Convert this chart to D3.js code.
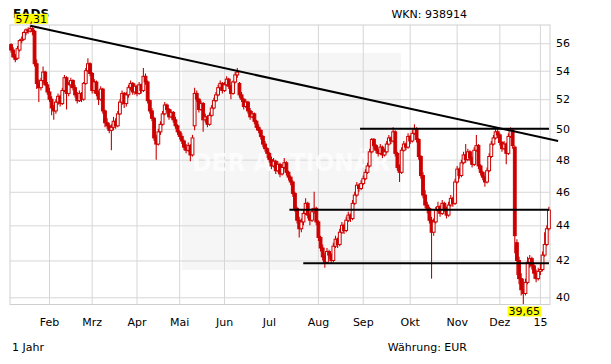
<!DOCTYPE html>
<html>
<head>
<meta charset="utf-8">
<script src="https://cdn.jsdelivr.net/npm/d3@7"></script>
<style>
  body { margin: 0; background: #fff; }
  svg { display: block; }
  text { font-family: "DejaVu Sans", sans-serif; }
</style>
</head>
<body>
<svg id="chart"></svg>
<script>
// trading days per month, Jan 2014 .. Jan 2015
const monthDays = [18, 20, 21, 20, 21, 21, 23, 21, 22, 22, 20, 19, 5];
const monthLabels = ["", "Feb", "Mrz", "Apr", "Mai", "Jun", "Jul", "Aug", "Sep", "Okt", "Nov", "Dez", "15"];
const yTicks = [40, 42, 44, 46, 48, 50, 52, 54, 56];

const opens = [
  55.9,55.5,55.0,54.9,55.5,56.2,56.3,56.8,57.0,56.9,57.1,56.9,54.5,53.1,52.8,53.3,53.9,53.0,
  52.5,52.0,51.4,51.2,51.8,52.2,51.7,52.6,53.5,52.4,53.0,53.3,52.8,52.3,51.9,52.4,52.0,53.1,54.0,54.5,
  53.8,52.6,53.2,52.4,52.0,52.7,51.2,50.4,50.2,49.9,50.1,50.5,50.2,51.0,51.8,52.4,51.7,52.3,52.8,53.1,52.5,
  52.9,52.4,53.0,52.6,53.6,53.2,51.9,51.2,50.7,49.4,49.0,49.8,50.3,51.0,51.6,51.3,50.8,51.1,50.6,50.2,
  49.8,49.5,49.2,48.8,48.6,48.9,48.3,50.2,52.4,52.0,51.3,51.7,50.6,50.8,50.3,50.9,51.4,51.9,52.3,52.8,53.1,
  52.6,53.0,53.4,52.9,52.4,53.2,53.7,53.1,52.3,52.0,51.5,51.8,51.2,50.8,51.0,50.5,50.1,49.9,49.5,49.0,48.7,
  48.4,48.0,47.6,47.9,47.3,47.7,47.1,47.5,47.8,47.2,46.9,46.6,45.9,45.0,44.3,43.8,44.2,44.7,45.3,44.6,44.3,44.8,45.0,
  44.2,43.3,42.7,42.2,41.9,42.5,42.3,42.0,42.8,43.2,42.9,43.6,44.0,43.7,44.3,44.6,44.4,45.3,45.8,46.4,46.2,
  46.5,46.8,47.2,47.6,48.5,49.3,48.9,48.6,48.4,48.8,48.3,48.5,49.0,49.4,49.2,49.8,48.4,47.5,47.2,48.6,49.0,48.8,
  49.5,49.2,49.7,50.0,49.3,48.2,47.0,45.8,45.2,45.0,44.3,43.6,44.2,44.9,45.1,44.7,45.3,45.0,44.6,45.2,45.6,45.3,
  46.6,47.4,47.0,47.8,48.3,48.0,48.5,48.1,47.7,48.6,48.9,47.6,47.2,46.9,46.6,47.3,48.2,49.0,49.4,49.8,
  49.6,49.1,48.7,49.0,48.4,49.5,49.9,48.8,43.0,42.0,41.0,40.4,40.2,40.8,41.9,42.1,41.7,41.3,41.0,
  41.4,41.5,42.3,42.9,43.8
];
const highs = [
  56.0,55.7,55.2,55.8,56.3,56.5,56.9,57.1,57.2,57.31,57.2,57.0,54.8,53.4,53.5,54.3,54.0,53.2,
  52.8,52.2,51.6,52.0,52.4,52.3,52.8,53.7,53.6,53.2,53.5,53.4,53.0,52.5,52.6,52.5,53.2,54.2,54.9,54.6,
  53.9,53.4,53.3,52.6,52.9,52.8,51.3,50.7,50.4,50.3,50.8,50.7,51.2,52.0,52.6,52.5,52.5,53.0,53.3,53.2,53.1,
  53.0,53.2,53.1,54.2,53.8,53.3,52.0,51.4,50.8,49.6,50.0,50.5,51.2,51.8,51.7,51.4,51.3,51.2,50.8,50.3,
  49.9,49.7,49.3,49.0,49.1,49.0,49.6,52.8,52.6,52.1,51.9,51.8,51.0,50.9,51.1,51.6,52.1,52.5,53.0,53.3,53.2,
  53.2,53.6,53.5,53.0,53.3,53.9,54.2,53.2,52.5,52.1,52.0,51.9,51.4,51.2,51.1,50.6,50.3,50.0,49.6,49.2,48.8,
  48.5,48.2,48.1,48.0,47.9,47.8,47.7,48.1,47.9,47.3,47.0,46.7,46.0,45.1,44.5,44.4,44.9,45.6,45.4,44.7,45.0,46.0,45.1,
  44.3,43.4,42.9,42.4,42.7,42.6,42.4,43.0,43.4,43.3,43.8,44.2,44.1,44.5,44.8,44.7,45.5,46.0,46.6,46.5,46.7,
  47.0,47.4,47.8,48.7,49.4,49.4,49.0,48.7,49.0,48.9,48.7,49.2,49.6,49.5,50.1,49.9,48.5,47.7,48.8,49.2,49.1,49.7,
  49.6,49.9,50.3,50.1,49.4,48.3,47.2,46.1,45.4,45.1,44.5,44.4,45.1,45.4,45.2,45.5,45.4,45.1,45.4,45.8,45.7,46.8,
  47.6,47.5,48.0,48.5,49.0,48.7,48.6,48.2,48.8,49.6,49.0,47.7,47.3,47.0,47.5,48.4,49.2,49.6,50.0,50.0,
  49.7,49.2,49.2,49.1,49.7,50.1,50.0,48.9,43.2,42.2,41.3,41.0,41.0,42.2,42.3,42.2,41.8,41.5,41.6,
  41.8,42.5,43.6,44.0,45.1
];
const lows = [
  55.3,54.9,54.6,54.8,55.4,56.0,56.2,56.6,56.7,56.8,56.6,54.3,52.7,51.8,52.6,53.1,52.9,52.3,
  51.8,50.9,50.6,51.0,51.6,51.5,51.6,52.5,51.3,52.2,52.8,52.6,52.1,51.7,51.8,51.8,51.9,53.0,53.9,53.6,
  52.4,52.4,52.2,51.6,51.9,51.0,50.1,50.0,49.7,48.6,49.9,50.0,50.1,50.9,51.6,51.4,51.5,52.1,52.6,52.3,52.3,
  52.2,52.3,52.4,52.5,53.0,51.7,51.0,50.5,49.2,48.0,48.9,49.6,50.2,50.9,51.1,50.6,50.7,50.4,50.0,49.6,
  49.3,49.0,48.6,48.4,48.5,47.9,48.2,49.9,51.8,51.1,51.2,49.8,50.4,50.1,50.2,50.8,51.3,51.8,52.2,52.6,52.4,
  52.5,52.9,52.7,52.0,52.3,53.1,53.5,52.1,51.8,51.3,51.4,51.0,50.6,50.7,50.3,49.9,49.7,49.3,48.8,48.5,48.1,
  47.8,47.4,47.5,47.1,47.2,46.9,47.0,47.4,47.0,46.7,46.4,45.7,44.8,44.1,43.3,43.6,44.0,44.6,44.4,44.0,44.2,44.7,44.0,
  43.1,42.5,42.0,41.6,41.8,42.1,41.8,41.9,42.7,42.7,42.8,43.5,43.5,43.6,44.2,44.2,44.3,45.2,45.7,46.0,46.1,
  46.4,46.7,47.1,47.5,48.4,48.7,48.4,48.2,48.3,48.1,48.2,48.4,48.9,49.0,49.1,48.2,47.3,46.6,47.1,48.5,48.6,48.7,
  49.0,49.1,49.6,49.1,48.0,46.8,45.6,45.0,44.7,44.1,41.0,43.4,44.1,44.8,44.5,44.6,44.8,44.4,44.5,45.1,45.1,45.2,
  46.5,46.8,46.9,47.7,47.8,47.9,47.9,47.5,47.6,48.5,47.4,47.0,46.7,46.3,46.5,47.2,48.1,48.9,49.3,49.4,
  48.9,48.5,48.6,47.7,48.3,49.4,48.7,42.4,41.2,40.7,40.1,39.65,40.1,40.7,41.6,41.5,41.0,40.8,40.9,
  41.2,41.4,42.2,42.8,43.7
];
const closes = [
  55.5,55.0,54.8,55.6,56.2,56.3,56.8,57.0,56.9,57.1,56.9,54.5,53.1,52.8,53.3,53.9,53.0,52.5,
  52.0,51.4,51.2,51.8,52.2,51.7,52.6,53.5,52.4,53.0,53.3,52.8,52.3,51.9,52.4,52.0,53.1,54.0,54.5,53.8,
  52.6,53.2,52.4,52.0,52.7,51.2,50.4,50.2,49.9,50.1,50.5,50.2,51.0,51.8,52.4,51.7,52.3,52.8,53.1,52.5,52.9,
  52.4,53.0,52.6,53.6,53.2,51.9,51.2,50.7,49.4,49.0,49.8,50.3,51.0,51.6,51.3,50.8,51.1,50.6,50.2,49.8,
  49.5,49.2,48.8,48.6,48.9,48.3,49.4,52.4,52.0,51.3,51.7,50.6,50.8,50.3,50.9,51.4,51.9,52.3,52.8,53.1,52.6,
  53.0,53.4,52.9,52.4,53.2,53.7,53.9,52.3,52.0,51.5,51.8,51.2,50.8,51.0,50.5,50.1,49.9,49.5,49.0,48.7,48.4,
  48.0,47.6,47.9,47.3,47.7,47.1,47.5,47.8,47.2,46.9,46.6,45.9,45.0,44.3,43.8,44.2,44.7,45.3,44.6,44.3,44.8,45.0,44.2,
  43.3,42.7,42.2,41.9,42.5,42.3,42.0,42.8,43.2,42.9,43.6,44.0,43.7,44.3,44.6,44.4,45.3,45.8,46.4,46.2,46.5,
  46.8,47.2,47.6,48.5,49.3,48.9,48.6,48.4,48.8,48.3,48.5,49.0,49.4,49.2,49.8,48.4,47.5,47.2,48.6,49.0,48.8,49.5,
  49.2,49.7,50.0,49.3,48.2,47.0,45.8,45.2,45.0,44.3,43.6,44.2,44.9,45.1,44.7,45.3,45.0,44.6,45.2,45.6,45.3,46.6,
  47.4,47.0,47.8,48.3,48.0,48.5,48.1,47.7,48.6,48.9,47.6,47.2,46.9,46.6,47.3,48.2,49.0,49.4,49.8,49.6,
  49.1,48.7,49.0,48.4,49.5,49.9,48.9,43.4,42.0,41.0,40.4,40.2,40.8,41.9,42.1,41.7,41.3,41.0,41.4,
  41.5,42.3,42.9,43.8,44.9
];

// drawn lines: [start day, start value, end day, end value]
const trendLine = [9, 57.31, 256.3, 49.2];
const supportLevels = [50.0, 44.92, 41.84];
const supportStarts = [163.5, 130.4, 136.9];

const width = 611;
const height = 364;
const plotLeft = 10, plotRight = 550, plotTop = 25, plotBottom = 304.5;
const red = "#cc0000";
const n = closes.length;

const svg = d3.select("#chart")
  .attr("width", width)
  .attr("height", height)
  .style("background", "#fff");

// SCALES
const xScale = d3.scaleBand()
  .domain(d3.range(n))
  .range([plotLeft, plotRight]);
const cx = i => xScale(i) + xScale.bandwidth() / 2;
const dayX = d => plotLeft + (d + 0.5) * xScale.step();

const yScale = d3.scaleLog()
  .domain([39.62, 57.37])
  .range([plotBottom, plotTop]);

// watermark panel
svg.append("rect")
  .attr("x", 182).attr("y", 53)
  .attr("width", 219).attr("height", 217)
  .attr("fill", "#f6f6f6");

// AXES / GRID
const monthStarts = d3.cumsum([0].concat(monthDays.slice(0, -1)));
const xAxis = d3.axisBottom(xScale)
  .tickValues(Array.from(monthStarts).slice(1))
  .tickFormat((d, i) => monthLabels[i + 1])
  .tickSize(-(plotBottom - plotTop))
  .tickPadding(14);

const yAxis = d3.axisRight(yScale)
  .tickValues(yTicks)
  .tickFormat(d3.format("d"))
  .tickSize(-(plotRight - plotLeft))
  .tickPadding(6);

const gx = svg.append("g")
  .attr("transform", `translate(0, ${plotBottom})`)
  .call(xAxis);
const gy = svg.append("g")
  .attr("transform", `translate(${plotRight}, 0)`)
  .call(yAxis);

[gx, gy].forEach(g => {
  g.select(".domain").remove();
  g.selectAll(".tick line").attr("stroke", "#d6d6d6");
  g.selectAll(".tick text")
    .attr("fill", "#000")
    .style("font-size", "11px");
});

svg.append("rect")
  .attr("x", plotLeft).attr("y", plotTop)
  .attr("width", plotRight - plotLeft).attr("height", plotBottom - plotTop)
  .attr("fill", "none")
  .attr("stroke", "#cfcfcf");

svg.append("text")
  .attr("x", 192).attr("y", 171)
  .attr("textLength", 198)
  .attr("lengthAdjust", "spacingAndGlyphs")
  .style("font-size", "25px")
  .style("font-weight", "bold")
  .attr("fill", "#fff")
  .attr("opacity", 0.75)
  .text("DER AKTIONÄR");

// CANDLES
const candles = svg.append("g")
  .selectAll("g")
  .data(d3.range(n))
  .join("g");

candles.append("line")
  .attr("x1", i => cx(i)).attr("x2", i => cx(i))
  .attr("y1", i => yScale(Math.max(highs[i], opens[i], closes[i])))
  .attr("y2", i => yScale(Math.min(lows[i], opens[i], closes[i])))
  .attr("stroke", red)
  .attr("stroke-width", 1.1);

candles.append("rect")
  .attr("x", i => cx(i) - 1.4)
  .attr("width", 2.8)
  .attr("y", i => yScale(Math.max(opens[i], closes[i])))
  .attr("height", i => Math.max(1, Math.abs(yScale(opens[i]) - yScale(closes[i]))))
  .attr("fill", i => closes[i] >= opens[i] ? "#fff" : red)
  .attr("stroke", red)
  .attr("stroke-width", 1);

// TREND + SUPPORT LINES
svg.append("line")
  .attr("x1", dayX(trendLine[0])).attr("y1", yScale(trendLine[1]))
  .attr("x2", dayX(trendLine[2])).attr("y2", yScale(trendLine[3]))
  .attr("stroke", "#000")
  .attr("stroke-width", 2);

svg.append("g")
  .selectAll("line")
  .data(supportLevels)
  .join("line")
    .attr("x1", (d, i) => dayX(supportStarts[i]))
    .attr("x2", plotRight - 1)
    .attr("y1", d => yScale(d))
    .attr("y2", d => yScale(d))
    .attr("stroke", "#000")
    .attr("stroke-width", 2);

// TEXTS
svg.append("text")
  .attr("x", 13).attr("y", 18)
  .style("font-size", "12px")
  .style("font-weight", "bold")
  .text("EADS");

svg.append("text")
  .attr("x", 467).attr("y", 18)
  .style("text-anchor", "end")
  .style("font-size", "11px")
  .text("WKN: 938914");

svg.append("text")
  .attr("x", 12).attr("y", 351)
  .style("font-size", "11px")
  .text("1 Jahr");

svg.append("text")
  .attr("x", 467).attr("y", 351)
  .style("text-anchor", "end")
  .style("font-size", "11px")
  .text("Währung: EUR");

// MAX / MIN LABELS
const fmt = v => v.toFixed(2).replace(".", ",");
const iMax = d3.maxIndex(highs);
const iMin = d3.minIndex(lows);

function flag(i, value, above) {
  const g = svg.append("g");
  const t = g.append("text")
    .attr("x", cx(i) + 1)
    .attr("y", above ? yScale(value) - 3 : yScale(value) + 11.5)
    .style("text-anchor", "middle")
    .style("font-size", "11px")
    .text(fmt(value));
  const b = t.node().getBBox();
  g.insert("rect", "text")
    .attr("x", b.x - 1).attr("width", b.width + 2)
    .attr("y", above ? yScale(value) - 12 : yScale(value) + 2.5)
    .attr("height", 10)
    .attr("fill", "#ffff00");
}
flag(iMax, highs[iMax], true);
flag(iMin, lows[iMin], false);
</script>
</body>
</html>
